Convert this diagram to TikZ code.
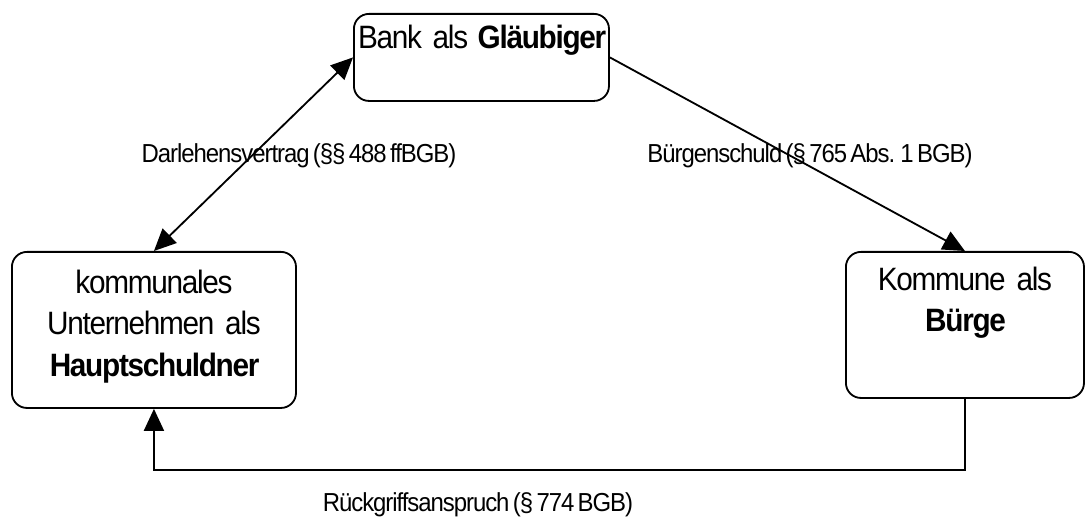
\documentclass[tikz,border=0pt]{standalone}
\usepackage{fontspec}
\setmainfont[FakeStretch=0.92, LetterSpace=-4, WordSpace=0.6]{Liberation Sans}
\usetikzlibrary{arrows.meta}

\begin{document}
\begin{tikzpicture}[x=0.025cm, y=-0.025cm,
    party/.style={draw, line width=1.3pt, rounded corners=0.375cm, align=center, inner sep=0pt, anchor=north west, font={\fontsize{23}{29.2}\selectfont\spaceskip=0.14em\relax}},
    rel/.style={line width=1.3pt, >={Triangle[length=0.55cm, width=0.5cm]}},
    lbl/.style={anchor=base, inner sep=0pt, font=\fontsize{18.5}{22}\selectfont}]

    % Page frame
    \useasboundingbox (0,0) rectangle (1085,517);

    % Parties
    \node[party, text width=6.375cm, text height=0.875cm, text depth=1.3cm] (bank) at (353,13) {Bank als \textbf{Gläubiger}};
    \node[party, text width=7.1cm, text height=1.05cm, text depth=2.85cm] (schuldner) at (11,251) {kommunales\\Unternehmen als\\\textbf{Hauptschuldner}};
    \node[party, text width=5.95cm, text height=0.975cm, text depth=2.675cm] (buerge) at (845,251) {Kommune als\\\textbf{Bürge}};

    % Relations
    \draw[rel, <->] (schuldner.north) -- (bank.west);
    \draw[rel, ->] (bank.east) -- (buerge.north);
    \draw[rel, ->] (buerge.south) -- ++(0,71) -| (schuldner.south);

    % Labels
    \node[lbl] (darlehen) at (299,163) {Darlehensvertrag (§§ 488 ffBGB)};
    \node[lbl] (buergschaft) at (810,163) {Bürgenschuld (§ 765 Abs. 1 BGB)};
    \node[lbl] (regress) at (478,511) {Rückgriffsanspruch (§ 774 BGB)};

\end{tikzpicture}
\end{document}
